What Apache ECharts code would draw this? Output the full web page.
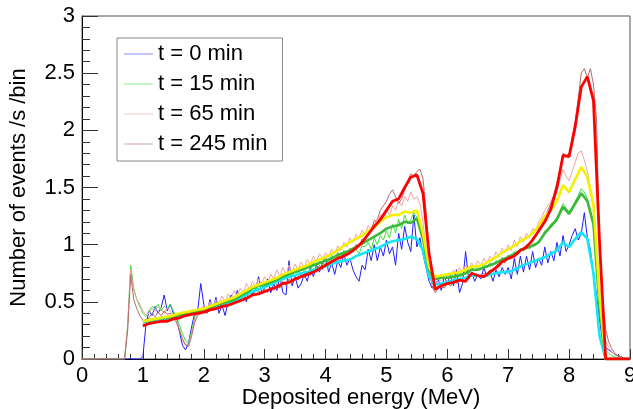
<!DOCTYPE html>
<html>
<head>
<meta charset="utf-8">
<script src="https://cdn.jsdelivr.net/npm/echarts@6/dist/echarts.min.js"></script>
<style>
  html, body { margin: 0; padding: 0; background: #fff; }
  #chart { width: 633px; height: 409px; }
</style>
</head>
<body>
<div id="chart"></div>
<script>
// Measured spectra: 0.05 MeV bins from 0 to 9 MeV
const binStart = 0.0;
const binStep = 0.05;

const t0min = [
  0,0,0,0,0,0,0,0,0,0,0,0,0,0,0,0,0,0,0,0,
  0.02,0.30,0.42,0.38,0.46,0.40,0.45,0.56,0.42,0.48,0.40,0.36,0.24,0.12,0.08,0.14,0.28,0.40,0.42,0.66,
  0.48,0.40,0.52,0.44,0.54,0.40,0.47,0.38,0.50,0.56,0.48,0.60,0.52,0.58,0.50,0.62,0.56,0.60,0.72,0.58,
  0.62,0.70,0.58,0.66,0.60,0.72,0.58,0.56,0.86,0.64,0.72,0.62,0.66,0.74,0.68,0.80,0.72,0.82,0.76,0.84,
  0.90,0.76,0.84,0.74,0.86,0.80,0.92,0.82,0.88,0.78,0.72,0.68,0.82,0.78,0.96,0.86,1.00,0.86,0.98,0.90,
  1.04,0.92,0.98,0.82,1.10,0.96,1.16,1.02,0.94,1.26,0.98,1.06,0.92,0.80,0.68,0.62,0.64,0.70,0.60,0.72,
  0.66,0.74,0.64,0.78,0.58,0.66,0.94,0.70,0.76,0.68,0.74,0.70,0.80,0.72,0.76,0.68,0.78,0.72,0.80,0.74,
  0.80,0.70,0.88,0.74,0.90,0.76,0.90,0.78,0.94,0.80,0.88,0.82,0.98,0.84,0.94,0.86,1.02,0.90,1.08,0.94,
  1.00,1.08,1.14,1.04,1.10,1.28,1.06,0.96,0.74,0.56,0.34,0.16,0.10,0.08,0.06,0.04,0.03,0.02,0.01,0.00,
  0
];

const t15min = [
  0,0,0,0,0,0,0,0,0,0,0,0,0,0,0,0.30,0.82,0.62,0.52,0.46,
  0.40,0.37,0.42,0.46,0.44,0.48,0.42,0.46,0.44,0.48,0.42,0.38,0.30,0.22,0.16,0.14,0.24,0.36,0.44,0.42,
  0.46,0.42,0.48,0.45,0.50,0.46,0.51,0.48,0.53,0.50,0.55,0.52,0.58,0.56,0.61,0.58,0.64,0.60,0.66,0.62,
  0.67,0.63,0.70,0.66,0.71,0.68,0.74,0.70,0.76,0.72,0.78,0.74,0.80,0.76,0.82,0.78,0.84,0.80,0.86,0.82,
  0.88,0.84,0.91,0.86,0.93,0.89,0.95,0.90,0.97,0.93,0.96,0.92,0.99,0.98,1.02,0.96,1.06,1.00,1.08,1.04,
  1.12,1.06,1.18,1.10,1.22,1.14,1.26,1.18,1.22,1.28,1.24,1.20,1.08,0.90,0.76,0.70,0.72,0.70,0.74,0.70,
  0.73,0.70,0.75,0.72,0.76,0.73,0.78,0.75,0.80,0.77,0.80,0.78,0.83,0.80,0.84,0.82,0.86,0.84,0.89,0.86,
  0.91,0.88,0.94,0.91,0.97,0.94,0.99,0.96,1.01,0.99,1.04,1.06,1.12,1.14,1.18,1.20,1.24,1.30,1.36,1.32,
  1.29,1.33,1.38,1.43,1.49,1.46,1.40,1.30,1.16,0.88,0.50,0.18,0.08,0.05,0.03,0.02,0.01,0,0,0,
  0
];

const t65min = [
  0,0,0,0,0,0,0,0,0,0,0,0,0,0,0,0.30,0.78,0.60,0.52,0.48,
  0.42,0.38,0.40,0.44,0.42,0.46,0.44,0.40,0.45,0.42,0.38,0.34,0.26,0.18,0.13,0.12,0.22,0.34,0.42,0.44,
  0.47,0.44,0.50,0.46,0.52,0.49,0.55,0.50,0.57,0.53,0.60,0.55,0.62,0.58,0.66,0.61,0.68,0.63,0.70,0.66,
  0.72,0.67,0.74,0.70,0.78,0.72,0.80,0.74,0.82,0.76,0.83,0.78,0.85,0.80,0.87,0.83,0.90,0.85,0.92,0.88,
  0.93,0.89,0.96,0.92,0.99,0.95,1.02,0.98,1.06,1.02,1.09,1.06,1.13,1.09,1.17,1.13,1.22,1.18,1.26,1.22,
  1.30,1.26,1.34,1.30,1.38,1.34,1.42,1.38,1.46,1.40,1.42,1.36,1.20,0.96,0.78,0.66,0.64,0.70,0.68,0.72,
  0.75,0.72,0.78,0.74,0.80,0.76,0.82,0.78,0.84,0.80,0.86,0.82,0.88,0.84,0.90,0.86,0.94,0.89,0.97,0.93,
  1.00,0.95,1.04,0.98,1.07,1.02,1.10,1.06,1.14,1.12,1.20,1.24,1.30,1.34,1.38,1.42,1.48,1.56,1.66,1.60,
  1.56,1.64,1.72,1.80,1.82,1.74,1.64,1.50,1.32,1.02,0.62,0.30,0.16,0.10,0.06,0.04,0.02,0.01,0,0,
  0
];

const t245min = [
  0,0,0,0,0,0,0,0,0,0,0,0,0,0,0,0.25,0.74,0.52,0.44,0.38,
  0.34,0.32,0.36,0.40,0.37,0.41,0.38,0.42,0.39,0.40,0.36,0.32,0.25,0.17,0.12,0.11,0.20,0.32,0.38,0.40,
  0.42,0.40,0.45,0.42,0.46,0.44,0.48,0.45,0.50,0.47,0.51,0.49,0.54,0.51,0.56,0.53,0.58,0.55,0.60,0.57,
  0.61,0.58,0.63,0.60,0.66,0.62,0.68,0.64,0.70,0.66,0.72,0.69,0.74,0.71,0.77,0.73,0.79,0.76,0.82,0.78,
  0.84,0.81,0.87,0.84,0.90,0.87,0.93,0.90,0.96,0.94,1.00,0.98,1.05,1.04,1.12,1.14,1.20,1.22,1.30,1.34,
  1.38,1.44,1.48,1.42,1.36,1.40,1.48,1.56,1.62,1.60,1.64,1.66,1.58,1.30,0.92,0.64,0.58,0.62,0.64,0.62,
  0.66,0.64,0.68,0.66,0.70,0.67,0.70,0.72,0.74,0.72,0.74,0.72,0.75,0.74,0.78,0.76,0.81,0.80,0.85,0.84,
  0.89,0.88,0.92,0.91,0.96,0.95,1.00,1.00,1.06,1.08,1.14,1.18,1.24,1.30,1.36,1.44,1.54,1.66,1.80,1.78,
  1.80,1.94,2.08,2.28,2.50,2.54,2.46,2.54,2.40,2.10,1.00,0.55,0.26,0.15,0.09,0.05,0.03,0.02,0.01,0,
  0
];

// Smoothed spectra: 0.1 MeV steps from 1 to 9 MeV
const smoothStart = 1.0;
const smoothStep = 0.1;

const smooth0 = [
  0.32,0.33,0.34,0.35,0.35,0.36,0.38,0.39,0.40,0.41,
  0.43,0.44,0.46,0.47,0.49,0.51,0.53,0.56,0.59,0.61,
  0.63,0.65,0.68,0.70,0.72,0.73,0.75,0.76,0.78,0.79,
  0.81,0.83,0.85,0.86,0.87,0.90,0.92,0.94,0.96,0.98,
  1.01,1.03,1.04,1.05,1.07,1.05,0.95,0.72,0.65,0.66,
  0.67,0.69,0.70,0.71,0.73,0.73,0.72,0.74,0.75,0.76,
  0.76,0.78,0.81,0.83,0.85,0.87,0.89,0.92,0.95,1.02,
  0.98,1.05,1.11,1.05,0.75,0.20,0,0,0,0,
  0
];

const smooth15 = [
  0.33,0.34,0.35,0.36,0.36,0.37,0.39,0.40,0.41,0.42,
  0.43,0.45,0.47,0.49,0.50,0.52,0.55,0.58,0.62,0.64,
  0.65,0.67,0.69,0.72,0.74,0.76,0.78,0.80,0.82,0.84,
  0.86,0.88,0.91,0.93,0.95,0.98,1.01,1.04,1.07,1.10,
  1.14,1.16,1.17,1.20,1.19,1.23,1.05,0.78,0.70,0.71,
  0.71,0.72,0.73,0.75,0.78,0.78,0.80,0.82,0.84,0.87,
  0.89,0.92,0.95,0.97,0.99,1.02,1.10,1.16,1.22,1.33,
  1.27,1.36,1.45,1.38,1.18,0.45,0,0,0,0,
  0
];

const smooth65 = [
  0.33,0.34,0.35,0.36,0.37,0.38,0.40,0.41,0.42,0.43,
  0.44,0.46,0.48,0.50,0.52,0.54,0.57,0.60,0.63,0.65,
  0.67,0.69,0.71,0.74,0.76,0.78,0.80,0.82,0.85,0.87,
  0.89,0.92,0.95,0.99,1.02,1.05,1.08,1.12,1.15,1.20,
  1.24,1.26,1.26,1.29,1.28,1.30,1.10,0.80,0.72,0.73,
  0.74,0.75,0.76,0.78,0.81,0.81,0.83,0.86,0.89,0.93,
  0.96,0.99,1.03,1.06,1.10,1.16,1.25,1.30,1.38,1.52,
  1.46,1.57,1.68,1.59,1.35,0.55,0,0,0,0,
  0
];

const smooth245 = [
  0.29,0.31,0.32,0.33,0.33,0.35,0.36,0.38,0.39,0.40,
  0.41,0.43,0.44,0.46,0.47,0.49,0.51,0.53,0.56,0.57,
  0.59,0.61,0.63,0.66,0.67,0.70,0.72,0.74,0.76,0.79,
  0.82,0.85,0.88,0.90,0.93,0.97,1.02,1.09,1.16,1.22,
  1.30,1.38,1.40,1.50,1.59,1.61,1.45,0.92,0.61,0.64,
  0.66,0.67,0.69,0.68,0.75,0.73,0.72,0.76,0.80,0.85,
  0.88,0.90,0.95,0.98,1.04,1.12,1.20,1.31,1.50,1.78,
  1.77,2.03,2.38,2.47,2.26,1.02,0,0,0,0,
  0
];

const legendNames = ['t = 0 min', 't = 15 min', 't = 65 min', 't = 245 min'];
const xTicks = { min: 0, max: 9, step: 1 };
const yTicks = { min: 0, max: 3, step: 0.5 };

const FONT = '"Liberation Sans", Arial, Helvetica, sans-serif';
const FS = 22;
// thin horizontal bar used as the legend key
const KEY_ICON = 'path://M0,0 L29,0 L29,1 L0,1 Z';

function toPairs(start, step, values) {
  return values.map((v, i) => [+(start + i * step).toFixed(3), v]);
}

function lineSeries(name, start, step, values, color, width, z) {
  return {
    name: name,
    type: 'line',
    data: toPairs(start, step, values),
    symbol: 'none',
    showSymbol: false,
    smooth: false,
    lineStyle: { color: color, width: width },
    itemStyle: { color: color },
    z: z,
    silent: true
  };
}

function legendEntry(name, color) {
  return { name: name, icon: KEY_ICON, itemStyle: { color: color, borderWidth: 0 } };
}

const chart = echarts.init(document.getElementById('chart'), null, { renderer: 'canvas' });

chart.setOption({
  animation: false,
  backgroundColor: '#ffffff',
  textStyle: { fontFamily: FONT },
  grid: {
    left: 82, right: 3, top: 16, bottom: 50,
    outerBoundsMode: 'none',
    containLabel: false,
    show: true, borderColor: '#555', borderWidth: 1,
    backgroundColor: 'transparent'
  },
  legend: {
    orient: 'vertical',
    left: 117, top: 38,
    padding: [5, 15, 6, 7],
    itemGap: 8,
    itemWidth: 29,
    itemHeight: 20,
    symbolKeepAspect: true,
    backgroundColor: '#ffffff',
    borderColor: '#888',
    borderWidth: 1,
    borderRadius: 0,
    textStyle: { fontSize: FS, color: '#000', fontFamily: FONT },
    data: [
      legendEntry(legendNames[0], '#8c8cff'),
      legendEntry(legendNames[1], '#8ced8c'),
      legendEntry(legendNames[2], '#f3c6c6'),
      legendEntry(legendNames[3], '#c9a6a6')
    ]
  },
  xAxis: {
    type: 'value',
    min: xTicks.min, max: xTicks.max, interval: xTicks.step,
    name: 'Deposited energy (MeV)',
    nameLocation: 'middle',
    nameGap: 28,
    nameMoveOverlap: false,
    nameTextStyle: { fontSize: FS, color: '#000', fontFamily: FONT, padding: [0, 0, 0, 10] },
    axisLine: { show: true, onZero: false, lineStyle: { color: '#000', width: 1 } },
    axisTick: { show: true, inside: true, length: 10, lineStyle: { color: '#333' } },
    minorTick: { show: true, splitNumber: 5, length: 5, lineStyle: { color: '#333' } },
    splitLine: { show: false },
    minorSplitLine: { show: false },
    axisLabel: { fontSize: FS, color: '#000', margin: 6, fontFamily: FONT, hideOverlap: false }
  },
  yAxis: {
    type: 'value',
    min: yTicks.min, max: yTicks.max, interval: yTicks.step,
    name: 'Number of events /s /bin',
    nameLocation: 'middle',
    nameGap: 52,
    nameMoveOverlap: false,
    nameTextStyle: { fontSize: FS, color: '#000', fontFamily: FONT },
    axisLine: { show: true, onZero: false, lineStyle: { color: '#000', width: 1 } },
    axisTick: { show: true, inside: true, length: 16, lineStyle: { color: '#333' } },
    minorTick: { show: true, splitNumber: 5, length: 8, lineStyle: { color: '#333' } },
    splitLine: { show: false },
    minorSplitLine: { show: false },
    axisLabel: { fontSize: FS, color: '#000', margin: 7, fontFamily: FONT }
  },
  series: [
    lineSeries(legendNames[0], binStart, binStep, t0min, '#1f1fff', 1, 2),
    lineSeries(legendNames[1], binStart, binStep, t15min, '#3fe03f', 1, 2),
    lineSeries(legendNames[2], binStart, binStep, t65min, '#f0a4a4', 1, 2),
    lineSeries(legendNames[3], binStart, binStep, t245min, '#b56a6a', 1, 2),
    lineSeries('smoothed 0 min', smoothStart, smoothStep, smooth0, '#14e6f5', 2.6, 3),
    lineSeries('smoothed 15 min', smoothStart, smoothStep, smooth15, '#3cb83c', 2.6, 3),
    lineSeries('smoothed 65 min', smoothStart, smoothStep, smooth65, '#f5f000', 2.6, 3),
    lineSeries('smoothed 245 min', smoothStart, smoothStep, smooth245, '#ff0000', 2.8, 4)
  ]
});
</script>
</body>
</html>
